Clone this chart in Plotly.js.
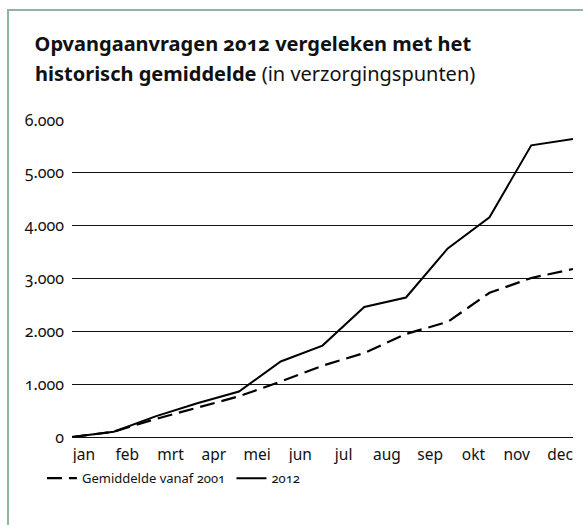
<!DOCTYPE html>
<html><head><meta charset="utf-8">
<script src="https://cdn.plot.ly/plotly-3.0.1.min.js"></script>
<style>
html,body{margin:0;padding:0;background:#fff;}
#wrap{position:relative;width:583px;height:525px;overflow:hidden;}
#chart{position:absolute;left:0;top:0;width:583px;height:525px;}
#frame{position:absolute;left:7px;top:9px;right:0;bottom:0;border-left:2px solid #8db5a0;border-top:2px solid #8db5a0;pointer-events:none;}
#chart text{font-variant-numeric:oldstyle-nums !important;font-feature-settings:"onum" 1 !important;}
</style></head><body>
<div id="wrap"><div id="chart"></div><div id="frame"></div></div>
<script>
const months = ['jan','feb','mrt','apr','mei','jun','jul','aug','sep','okt','nov','dec'];
const boundaries = [0,1,2,3,4,5,6,7,8,9,10,11,12];
const gemiddelde = [0,100,340,560,770,1050,1350,1590,1950,2180,2730,3010,3180];
const jaar2012 = [0,100,390,640,860,1430,1730,2460,2640,3570,4160,5520,5640];
const yTicks = [0,1000,2000,3000,4000,5000,6000];
const seriesNames = ['Gemiddelde vanaf 2001','2012'];
const titleLine1 = 'Opvangaanvragen 2012 vergeleken met het';
const titleLine2Bold = 'historisch gemiddelde';
const titleLine2 = ' (in verzorgingspunten)';

const FONT = '"Noto Sans", "Open Sans", sans-serif';
const traces = [
  {x: boundaries, y: gemiddelde, name: seriesNames[0], type:'scatter', mode:'lines',
   line:{color:'#000', width:2.2, dash:'15px,7px'}, hoverinfo:'skip'},
  {x: boundaries, y: jaar2012, name: seriesNames[1], type:'scatter', mode:'lines',
   line:{color:'#000', width:2}, hoverinfo:'skip'},
  {x: months, y: months.map(()=>null), xaxis:'x2', type:'scatter', mode:'lines',
   showlegend:false, hoverinfo:'skip'}
];
const layout = {
  width:583, height:525,
  margin:{l:72, r:10, t:120, b:88},
  paper_bgcolor:'#fff', plot_bgcolor:'#fff',
  separators:',.',
  font:{family:FONT, color:'#111', size:14},
  showlegend:true,
  legend:{orientation:'h', x:-0.06, xanchor:'left', y:-0.13, yanchor:'middle',
          font:{size:13, color:'#111'}, traceorder:'normal'},
  xaxis:{range:[0,12], showgrid:false, zeroline:false, showticklabels:false, ticks:'', showline:false, fixedrange:true},
  xaxis2:{type:'category', overlaying:'x', anchor:'y', side:'bottom', range:[-0.277,11.30],
          showgrid:false, zeroline:false, showline:false, ticks:'', tickfont:{size:15.5, color:'#111'},
          ticklabelstandoff:6, fixedrange:true},
  yaxis:{range:[0,6000], tickvals:yTicks, tickformat:',d', showgrid:true, gridcolor:'#111', gridwidth:1,
         zeroline:true, zerolinecolor:'#111', zerolinewidth:1, showline:false, ticks:'',
         tickfont:{size:16, color:'#111'}, ticklabelstandoff:7, fixedrange:true},
  annotations:[
    {text:'<b>'+titleLine1+'</b>', xref:'paper', yref:'paper', x:-0.078, y:1.24, xanchor:'left', yanchor:'middle',
     showarrow:false, font:{size:20, color:'#111'}},
    {text:'<b>'+titleLine2Bold+'</b>'+titleLine2, xref:'paper', yref:'paper', x:-0.078, y:1.148, xanchor:'left', yanchor:'middle',
     showarrow:false, font:{size:20, color:'#111'}}
  ]
};
Plotly.newPlot('chart', traces, layout, {displayModeBar:false, staticPlot:true});
</script></body></html>
